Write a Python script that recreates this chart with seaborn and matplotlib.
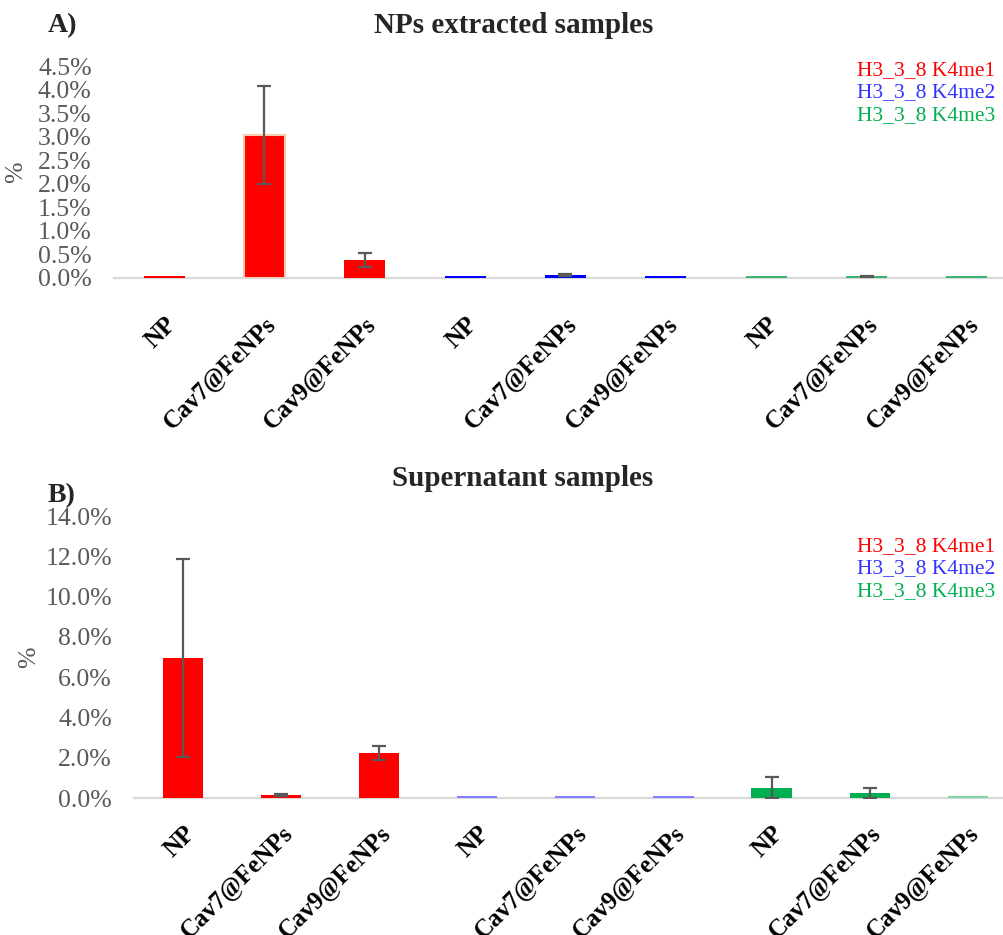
import matplotlib
matplotlib.use("Agg")
import matplotlib.pyplot as plt
from matplotlib.patches import Patch
from matplotlib.ticker import FuncFormatter
import seaborn as sns
import pandas as pd

# Sample groups (three per methylation state)
categories = ["NP", "Cav7@FeNPs", "Cav9@FeNPs"] * 3
series_names = ["H3_3_8 K4me1", "H3_3_8 K4me2", "H3_3_8 K4me3"]

# Relative abundance (%) and standard deviation, NPs extracted samples
np_values = [0.04, 3.03, 0.38, 0.04, 0.07, 0.04, 0.04, 0.04, 0.04]
np_errors = [0.0, 1.04, 0.14, 0.0, 0.02, 0.0, 0.0, 0.01, 0.0]

# Relative abundance (%) and standard deviation, supernatant samples
sn_values = [6.95, 0.15, 2.25, 0.1, 0.1, 0.1, 0.52, 0.25, 0.1]
sn_errors = [4.93, 0.05, 0.35, 0.0, 0.0, 0.0, 0.54, 0.23, 0.0]

np_colors = ["#ff0000"] * 3 + ["#0000ff"] * 3 + ["#3cb371"] * 3
sn_colors = ["#ff0000"] * 3 + ["#8080ff"] * 3 + ["#00b050", "#00b050", "#80d4a4"]
legend_colors = ["#ff0000", "#3333ff", "#00b050"]

sns.set_theme(style="white")
plt.rcParams["font.family"] = ["Liberation Serif", "DejaVu Serif"]

GRAY = "#595959"
fig = plt.figure(figsize=(10.04, 9.35), dpi=100)
ax_top = fig.add_axes([0.1135, 0.7027, 0.8865, 0.2267])
ax_bot = fig.add_axes([0.1335, 0.1465, 0.8665, 0.3016])


def draw_panel(ax, values, errors, colors, ymax, ystep, xpad, legend_top):
    df = pd.DataFrame({"slot": list(range(len(values))), "value": values})
    sns.barplot(data=df, x="slot", y="value", hue="slot", palette=colors,
                width=0.41, dodge=False, legend=False, saturation=1,
                ax=ax, errorbar=None)
    for p in ax.patches:
        p.set_edgecolor("none")
        p.set_zorder(3)
    xs = [i for i, e in enumerate(errors) if e > 0]
    ax.errorbar(xs, [values[i] for i in xs], yerr=[errors[i] for i in xs],
                fmt="none", ecolor=GRAY, elinewidth=1.6, capsize=5,
                capthick=1.6, zorder=5)
    ax.set_xlim(-0.5, 8.37)
    ax.set_ylim(0, ymax)
    ax.set_yticks([ystep * k for k in range(int(round(ymax / ystep)) + 1)])
    ax.yaxis.set_major_formatter(FuncFormatter(lambda v, _: f"{v:.1f}%"))
    ax.set_xticks(range(len(categories)))
    ax.set_xticklabels(categories, rotation=45, ha="right",
                       rotation_mode="anchor", fontweight="bold",
                       fontsize=18, color="black")
    ax.tick_params(axis="x", length=0, pad=xpad)
    ax.tick_params(axis="y", length=0, pad=16, labelsize=18.5, labelcolor=GRAY)
    for s in ["left", "right", "top"]:
        ax.spines[s].set_visible(False)
    ax.spines["bottom"].set_color("#d9d9d9")
    ax.spines["bottom"].set_linewidth(1.6)
    ax.spines["bottom"].set_zorder(1)
    ax.set_xlabel("")
    ax.set_ylabel("%", color=GRAY, fontsize=18.5)
    handles = [Patch(visible=False) for _ in series_names]
    ax.legend(handles, series_names, loc="upper right",
              bbox_to_anchor=(0.991, legend_top),
              bbox_transform=fig.transFigure, frameon=False,
              handlelength=0, handletextpad=0, labelspacing=0.12,
              fontsize=15.5, labelcolor=legend_colors,
              borderaxespad=0, borderpad=0)
    return ax


draw_panel(ax_top, np_values, np_errors, np_colors, 4.5, 0.5, 25, 0.936)
ax_top.patches[1].set_edgecolor("#f8cbad")
ax_top.patches[1].set_linewidth(1.5)
draw_panel(ax_bot, sn_values, sn_errors, sn_colors, 14.0, 2.0, 17, 0.427)

ax_top.yaxis.set_label_coords(-0.097, 0.5)
ax_bot.yaxis.set_label_coords(-0.108, 0.5)

fig.text(0.512, 0.973, "NPs extracted samples", ha="center", va="center",
         fontsize=21, fontweight="bold")
fig.text(0.048, 0.973, "A)", ha="left", va="center",
         fontsize=20, fontweight="bold")
fig.text(0.521, 0.488, "Supernatant samples", ha="center", va="center",
         fontsize=21, fontweight="bold")
fig.text(0.047, 0.47, "B)", ha="left", va="center",
         fontsize=20, fontweight="bold")

fig.savefig("out.png", dpi=100)
